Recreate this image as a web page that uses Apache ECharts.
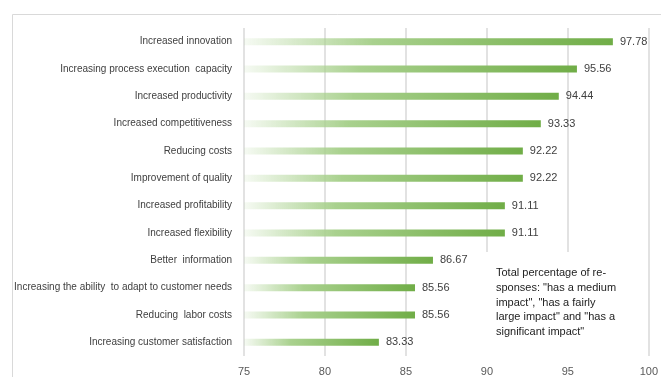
<!DOCTYPE html>
<html>
<head>
<meta charset="utf-8">
<script src="https://cdn.jsdelivr.net/npm/echarts@6/dist/echarts.min.js"></script>
<style>
  html, body { margin: 0; padding: 0; background: #fff; }
  #chart { width: 661px; height: 377px; }
</style>
</head>
<body>
<div id="chart"></div>
<script>
// Effects listed top to bottom
const categories = [
  'Increased innovation',
  'Increasing process execution  capacity',
  'Increased productivity',
  'Increased competitiveness',
  'Reducing costs',
  'Improvement of quality',
  'Increased profitability',
  'Increased flexibility',
  'Better  information',
  'Increasing the ability  to adapt to customer needs',
  'Reducing  labor costs',
  'Increasing customer satisfaction'
];
const values = [97.78, 95.56, 94.44, 93.33, 92.22, 92.22, 91.11, 91.11, 86.67, 85.56, 85.56, 83.33];
const xTicks = [75, 80, 85, 90, 95, 100];
const noteLines = [
  'Total percentage of re-',
  'sponses: "has a medium',
  'impact", "has a fairly',
  'large impact" and "has a',
  'significant impact"'
];

const chart = echarts.init(document.getElementById('chart'), null, { renderer: 'canvas' });

const barGradient = new echarts.graphic.LinearGradient(0, 0, 1, 0, [
  { offset: 0, color: 'rgba(169,209,142,0.1)' },
  { offset: 0.35, color: '#a9d18e' },
  { offset: 1, color: '#70ad47' }
]);

chart.setOption({
  animation: false,
  grid: { left: 244, right: 11, top: 28, bottom: 21, containLabel: false },
  xAxis: {
    type: 'value',
    min: xTicks[0],
    max: xTicks[xTicks.length - 1],
    interval: 5,
    axisLine: { show: false },
    axisTick: { show: false },
    axisLabel: { color: '#595959', fontSize: 11, fontFamily: 'Liberation Sans', margin: 10 },
    splitLine: { show: true, lineStyle: { color: '#d9d9d9', width: 1.5 } }
  },
  yAxis: {
    type: 'category',
    data: categories,
    inverse: true,
    axisLine: { show: false },
    axisTick: { show: false },
    axisLabel: { color: '#404040', fontSize: 10, fontFamily: 'Liberation Sans', margin: 12 }
  },
  series: [{
    type: 'bar',
    data: values,
    barWidth: 7,
    itemStyle: { color: barGradient },
    label: {
      show: true,
      position: 'right',
      distance: 7,
      color: '#404040',
      fontSize: 11,
      fontFamily: 'Liberation Sans',
      formatter: p => p.value.toFixed(2)
    }
  }],
  graphic: [
    {
      type: 'rect',
      left: 10, top: 12,
      shape: { width: 700, height: 400 },
      style: { fill: 'none', stroke: '#d9d9d9', lineWidth: 1 },
      silent: true
    },
    {
      type: 'rect',
      left: 478, top: 252,
      shape: { width: 164, height: 106 },
      style: { fill: '#ffffff' },
      z: 10
    },
    {
      type: 'text',
      left: 496, top: 266,
      z: 11,
      style: {
        text: noteLines.join('\n'),
        fill: '#222222',
        font: '11px "Liberation Sans"',
        lineHeight: 14.6
      }
    }
  ]
});
</script>
</body>
</html>
